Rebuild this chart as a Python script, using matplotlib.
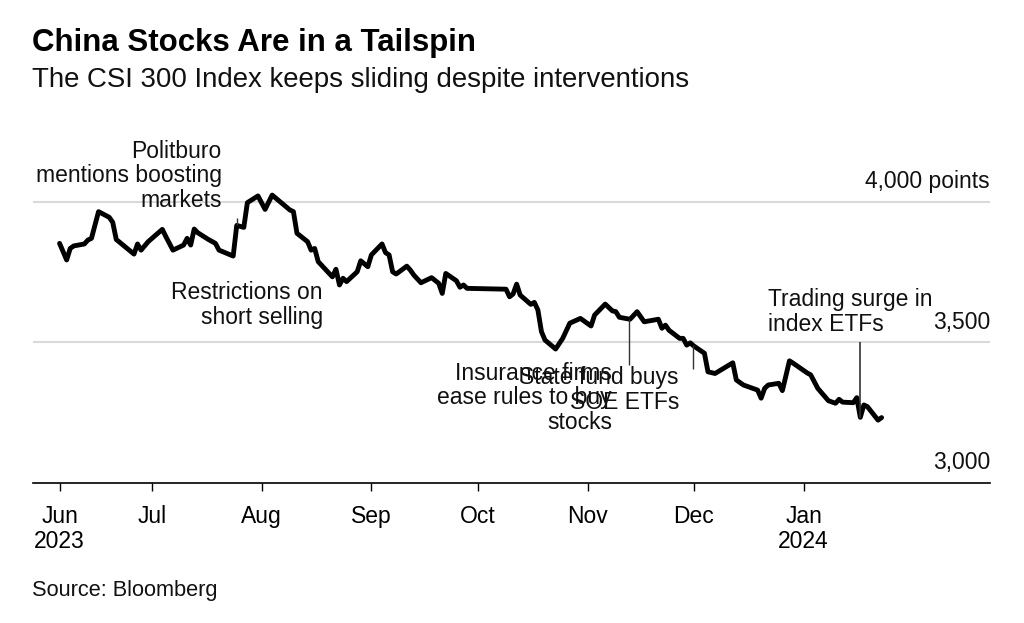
import matplotlib
matplotlib.use("Agg")
import matplotlib.pyplot as plt
import matplotlib.dates as mdates
import matplotlib.transforms as mtransforms
import pandas as pd

plt.rcParams['font.family'] = ['Liberation Sans', 'DejaVu Sans']

# CSI 300 closes
dates = [
    "2023-06-05", "2023-06-07", "2023-06-08", "2023-06-09", "2023-06-12", "2023-06-13",
    "2023-06-14", "2023-06-16", "2023-06-19", "2023-06-20", "2023-06-21", "2023-06-26",
    "2023-06-27", "2023-06-28", "2023-06-30", "2023-07-04", "2023-07-05", "2023-07-07",
    "2023-07-10", "2023-07-11", "2023-07-12", "2023-07-13", "2023-07-14", "2023-07-17",
    "2023-07-19", "2023-07-20", "2023-07-24", "2023-07-25", "2023-07-27", "2023-07-28",
    "2023-07-31", "2023-08-02", "2023-08-04", "2023-08-09", "2023-08-10", "2023-08-11",
    "2023-08-14", "2023-08-15", "2023-08-16", "2023-08-17", "2023-08-21", "2023-08-22",
    "2023-08-23", "2023-08-24", "2023-08-25", "2023-08-28", "2023-08-29", "2023-08-31",
    "2023-09-01", "2023-09-04", "2023-09-05", "2023-09-06", "2023-09-07", "2023-09-08",
    "2023-09-11", "2023-09-12", "2023-09-13", "2023-09-15", "2023-09-18", "2023-09-20",
    "2023-09-21", "2023-09-22", "2023-09-25", "2023-09-26", "2023-09-27", "2023-09-28",
    "2023-10-09", "2023-10-10", "2023-10-11", "2023-10-12", "2023-10-13", "2023-10-16",
    "2023-10-17", "2023-10-18", "2023-10-19", "2023-10-20", "2023-10-23", "2023-10-25",
    "2023-10-27", "2023-10-30", "2023-11-02", "2023-11-03", "2023-11-06", "2023-11-08",
    "2023-11-09", "2023-11-10", "2023-11-13", "2023-11-15", "2023-11-17", "2023-11-21",
    "2023-11-22", "2023-11-23", "2023-11-24", "2023-11-27", "2023-11-28", "2023-11-29",
    "2023-11-30", "2023-12-01", "2023-12-04", "2023-12-05", "2023-12-07", "2023-12-12",
    "2023-12-13", "2023-12-15", "2023-12-19", "2023-12-20", "2023-12-21", "2023-12-22",
    "2023-12-25", "2023-12-26", "2023-12-28", "2023-12-29", "2024-01-02", "2024-01-03",
    "2024-01-05", "2024-01-08", "2024-01-10", "2024-01-11", "2024-01-12", "2024-01-15",
    "2024-01-16", "2024-01-17", "2024-01-18", "2024-01-19", "2024-01-22", "2024-01-23",
]
values = [
    3851, 3792, 3833, 3842, 3849, 3863,
    3869, 3964, 3944, 3926, 3865, 3813,
    3849, 3827, 3857, 3901, 3875, 3827,
    3845, 3869, 3845, 3902, 3889, 3865,
    3851, 3827, 3806, 3915, 3908, 3996,
    4020, 3972, 4023, 3970, 3964, 3887,
    3857, 3827, 3833, 3786, 3732, 3759,
    3703, 3727, 3715, 3750, 3789, 3768,
    3810, 3849, 3818, 3810, 3750, 3742,
    3770, 3756, 3738, 3711, 3729, 3709,
    3673, 3744, 3718, 3695, 3703, 3691,
    3688, 3661, 3671, 3706, 3667, 3634,
    3641, 3614, 3537, 3507, 3475, 3513,
    3567, 3584, 3557, 3596, 3635, 3611,
    3608, 3588, 3581, 3608, 3572, 3581,
    3549, 3560, 3542, 3513, 3513, 3489,
    3497, 3486, 3460, 3394, 3388, 3426,
    3365, 3347, 3329, 3300, 3335, 3347,
    3353, 3327, 3433, 3425, 3390, 3383,
    3335, 3291, 3282, 3296, 3286, 3284,
    3302, 3232, 3276, 3270, 3222, 3231,
]

tick_dates = ["2023-06-05", "2023-07-01", "2023-08-01", "2023-09-01", "2023-10-01",
              "2023-11-01", "2023-12-01", "2024-01-01"]
tick_labels = ["Jun\n2023", "Jul", "Aug", "Sep", "Oct", "Nov", "Dec", "Jan\n2024"]
grid_values = [3000, 3500, 4000]
grid_labels = ["3,000", "3,500", "4,000 points"]

x = pd.to_datetime(dates)
d0 = mdates.date2num(pd.Timestamp("2023-06-01"))

fig = plt.figure(figsize=(10.24, 6.23), dpi=100)
ax = fig.add_axes([33 / 1024, (623 - 482.5) / 623, (990 - 33) / 1024, (482.5 - 140) / 623])

for g in grid_values[1:]:
    ax.axhline(g, color='#d9d9d9', lw=1.5, zorder=0)

ax.plot(x, values, color='black', lw=3.5, solid_joinstyle='round', solid_capstyle='round', zorder=3)

ax.set_xlim(d0 - 3.5, d0 + 266.6)
ax.set_ylim(3000, 4219)

for s in ['top', 'left', 'right']:
    ax.spines[s].set_visible(False)
ax.spines['bottom'].set_color('black')
ax.spines['bottom'].set_linewidth(1.2)
ax.set_yticks([])
ax.set_xticks(pd.to_datetime(tick_dates))
ax.set_xticklabels(tick_labels)
ax.tick_params(axis='x', length=6, width=1, pad=10, labelsize=16.5, colors='black')
for lab in ax.get_xticklabels():
    lab.set_linespacing(1.12)

# right-side value labels above gridlines
trans = mtransforms.blended_transform_factory(ax.transAxes, ax.transData)
for g, lab in zip(grid_values, grid_labels):
    ax.annotate(lab, xy=(1.0, g), xycoords=trans, xytext=(0, 6), textcoords='offset points',
                ha='right', va='bottom', fontsize=16.5, color='#111111')

# annotations
ann_kw = dict(fontsize=16.5, color='#111111', linespacing=1.1, clip_on=False, zorder=5)
day = lambda n: d0 + n

ax.text(day(49.8), 4091, "Politburo\nmentions boosting\nmarkets", ha='right', va='center',
        multialignment='right', **ann_kw)
ax.vlines(mdates.date2num(pd.Timestamp("2023-07-25")), 3915, 3940, color='#333333', lw=1, zorder=4)

ax.text(day(78.3), 3632, "Restrictions on\nshort selling", ha='right', va='center',
        multialignment='right', **ann_kw)

ax.text(day(159.9), 3301, "Insurance firms\nease rules to buy\nstocks", ha='right', va='center',
        multialignment='right', **ann_kw)
ax.vlines(day(182.8), 3404, 3490, color='#333333', lw=1, zorder=4)

ax.text(day(178.8), 3329, "State fund buys\nSOE ETFs", ha='right', va='center',
        multialignment='right', **ann_kw)
ax.vlines(day(164.7), 3418, 3581, color='#333333', lw=1, zorder=4)

ax.text(day(203.9), 3607, "Trading surge in\nindex ETFs", ha='left', va='center',
        multialignment='left', **ann_kw)
ax.vlines(day(229.9), 3230, 3501, color='#333333', lw=1.2, zorder=4)

fig.text(32 / 1024, 1 - 51 / 623, "China Stocks Are in a Tailspin", fontsize=22.5,
         fontweight='bold', va='baseline', ha='left', color='black')
fig.text(32 / 1024, 1 - 87 / 623, "The CSI 300 Index keeps sliding despite interventions",
         fontsize=19.9, va='baseline', ha='left', color='#111111')
fig.text(32 / 1024, 1 - 596 / 623, "Source: Bloomberg", fontsize=15.7, va='baseline',
         ha='left', color='#111111')

fig.savefig("out.png", dpi=100, facecolor='white')
